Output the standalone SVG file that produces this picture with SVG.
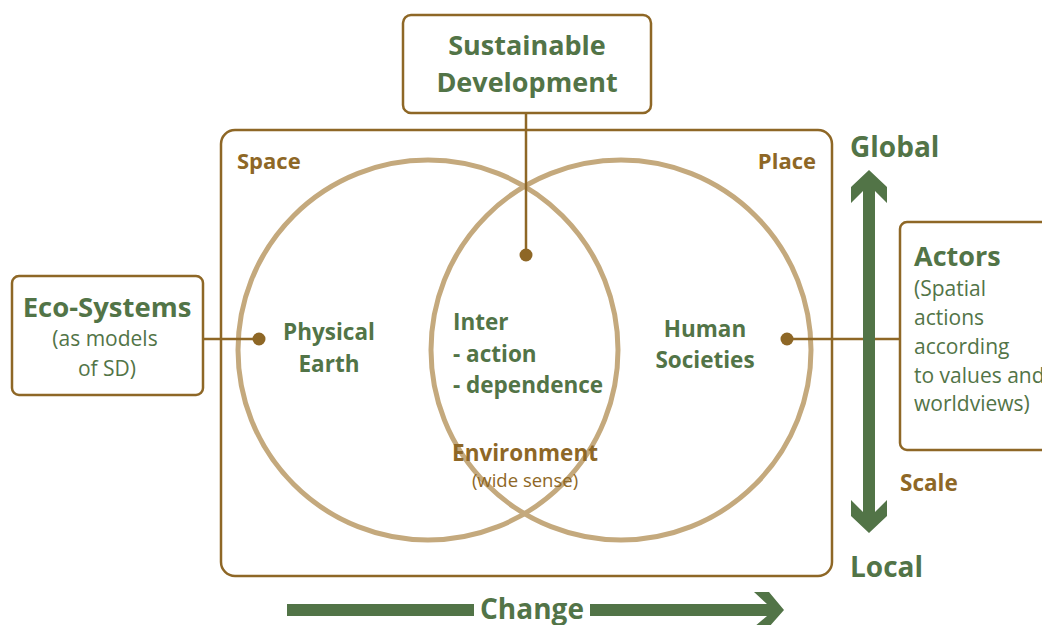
<svg xmlns="http://www.w3.org/2000/svg" width="1042" height="625" viewBox="0 0 1042 625">
<style>
.box{fill:#fff;stroke:#8E6726;stroke-width:2.5}
.circ{fill:none;stroke:#C4A97D;stroke-width:5}
.line{stroke:#8E6726;stroke-width:2.5;fill:none}
.dot{fill:#8E6726}
.arrow{fill:#527447}
text{font-family:"Open Sans","Noto Sans",sans-serif}
.g{fill:#527447;font-weight:700}
.gn{fill:#527447;font-weight:400}
.b{fill:#8E6726;font-weight:700}
.bn{fill:#8E6726;font-weight:400}
</style>
<rect width="1042" height="625" fill="#fff"/>
<g id="frame">
<rect class="box" x="221" y="130" width="611" height="446" rx="14"/>
<text class="b" x="237" y="169" font-size="22">Space</text>
<text class="b" x="816" y="169" font-size="22" text-anchor="end">Place</text>
</g>
<g id="circles">
<circle class="circ" cx="428" cy="350" r="190"/>
<circle class="circ" cx="621" cy="350" r="190"/>
</g>
<g id="connectors">
<line class="line" x1="526" y1="113" x2="526" y2="255"/>
<circle class="dot" cx="526" cy="255" r="6.5"/>
<line class="line" x1="203" y1="339" x2="259" y2="339"/>
<circle class="dot" cx="259" cy="339" r="6.5"/>
<line class="line" x1="787" y1="339" x2="900" y2="339"/>
<circle class="dot" cx="787" cy="339" r="6.5"/>
</g>
<g id="sd">
<rect class="box" x="403" y="15" width="248" height="98" rx="8"/>
<text class="g" x="527" y="55" font-size="27" text-anchor="middle">Sustainable</text>
<text class="g" x="527" y="92" font-size="27" text-anchor="middle">Development</text>
</g>
<g id="eco">
<rect class="box" x="12" y="276" width="191" height="119" rx="7"/>
<text class="g" x="107" y="317" font-size="27.5" text-anchor="middle">Eco-Systems</text>
<text class="gn" x="105" y="346" font-size="21" text-anchor="middle">(as models</text>
<text class="gn" x="107" y="376" font-size="21" text-anchor="middle">of SD)</text>
</g>
<g id="actors">
<rect class="box" x="900" y="222" width="160" height="228" rx="7"/>
<text class="g" x="914" y="266" font-size="27">Actors</text>
<text class="gn" x="914" y="296" font-size="21">(Spatial</text>
<text class="gn" x="914" y="325" font-size="21">actions</text>
<text class="gn" x="914" y="354" font-size="21">according</text>
<text class="gn" x="914" y="383" font-size="21">to values and</text>
<text class="gn" x="914" y="411" font-size="21">worldviews)</text>
</g>
<g id="physical">
<text class="g" x="329" y="340" font-size="22.5" text-anchor="middle">Physical</text>
<text class="g" x="329" y="372" font-size="22.5" text-anchor="middle">Earth</text>
</g>
<g id="human">
<text class="g" x="705" y="337" font-size="22.5" text-anchor="middle">Human</text>
<text class="g" x="705" y="368" font-size="22.5" text-anchor="middle">Societies</text>
</g>
<g id="inter">
<text class="g" x="453" y="330" font-size="22.5">Inter</text>
<text class="g" x="453" y="362" font-size="22.5">- action</text>
<text class="g" x="453" y="393" font-size="22.5">- dependence</text>
</g>
<g id="environment">
<text class="b" x="525" y="461" font-size="22.5" text-anchor="middle">Environment</text>
<text class="bn" x="525" y="487" font-size="18.5" text-anchor="middle">(wide sense)</text>
</g>
<g id="scale">
<polygon class="arrow" points="869,170 887,187 887,203 875,191 875,512 887,500 887,516 869,533 851,516 851,500 863,512 863,191 851,203 851,187"/>
<text class="g" x="850" y="157" font-size="28">Global</text>
<text class="g" x="850" y="577" font-size="28">Local</text>
<text class="b" x="900" y="491" font-size="22.5">Scale</text>
</g>
<g id="change">
<rect class="arrow" x="287" y="604" width="187" height="12"/>
<polygon class="arrow" points="590,604 767,604 754,592 769,592 784,610 769,627 754,627 767,616 590,616"/>
<text class="g" x="532" y="619" font-size="28" text-anchor="middle">Change</text>
</g>
</svg>
